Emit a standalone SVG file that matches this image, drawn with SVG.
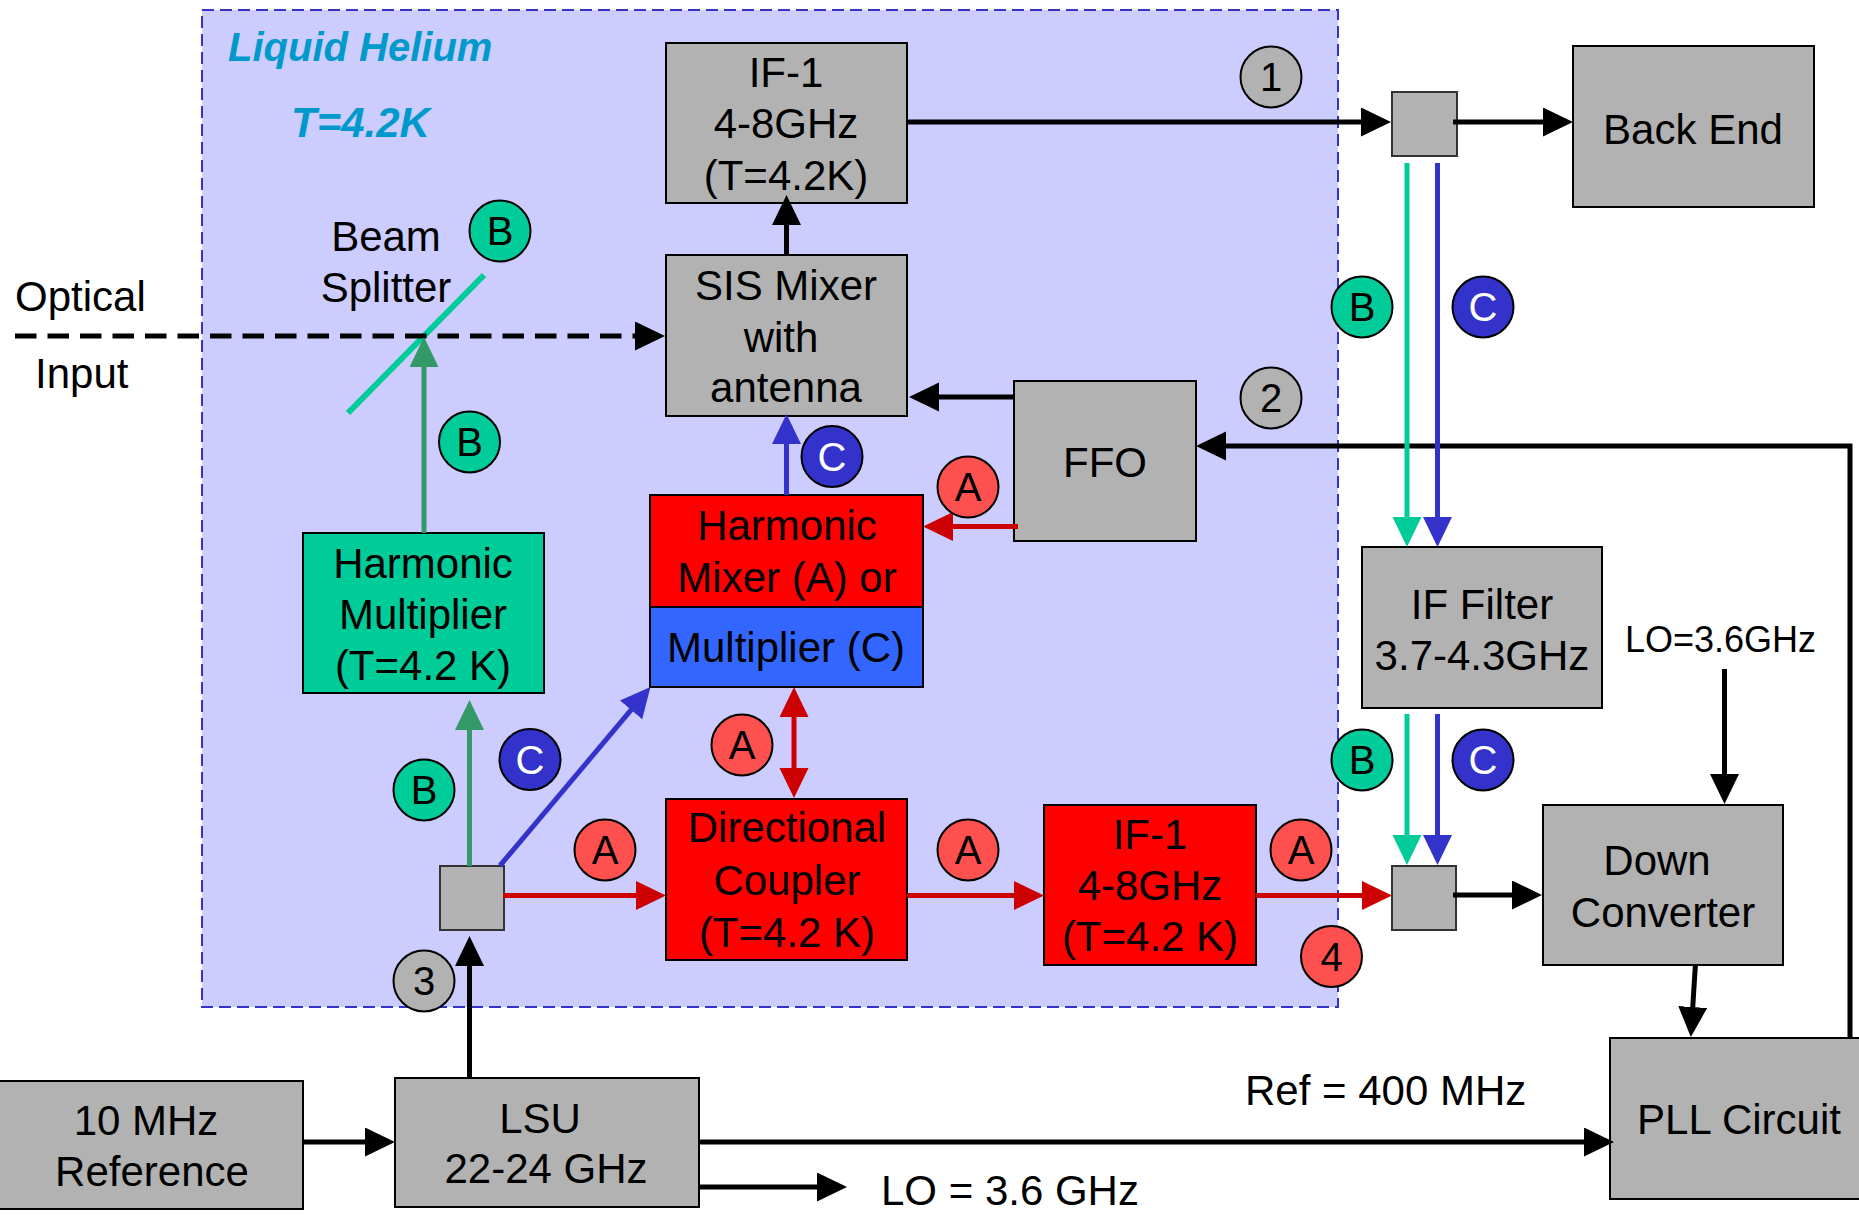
<svg xmlns="http://www.w3.org/2000/svg" width="1859" height="1215" viewBox="0 0 1859 1215">
<style>
text{font-family:"Liberation Sans",Arial,sans-serif;font-size:42px;fill:#000;text-anchor:middle}
.box{fill:#B2B2B2;stroke:#000;stroke-width:2}
.sp{fill:#B2B2B2;stroke:#333;stroke-width:2}
.red{fill:#FF0000;stroke:#000;stroke-width:2}
.grn{fill:#00CC99;stroke:#000;stroke-width:2}
.blu{fill:#3366FF;stroke:#000;stroke-width:2}
.c{stroke:#000;stroke-width:2}
.cg{fill:#B2B2B2}.cr{fill:#FF5050}.cb{fill:#00CC99}.cc{fill:#3333CC}
.lbl{font-size:40px}
.w{fill:#fff}
.k{fill:none;stroke:#000;stroke-width:5}
.r{fill:none;stroke:#CC0000;stroke-width:5}
.b{fill:none;stroke:#3333CC;stroke-width:5}
.g{fill:none;stroke:#00CC99;stroke-width:5}
.dg{fill:none;stroke:#339966;stroke-width:5}
.ti{font-weight:bold;font-style:italic;font-size:40px;fill:#0099CC;text-anchor:start}
.st{text-anchor:start}
</style>
<defs>
<marker id="mk" markerUnits="userSpaceOnUse" markerWidth="30" markerHeight="30" refX="18" refY="14.5" orient="auto"><path d="M0,0 L30,14.5 L0,29 z" fill="#000"/></marker>
<marker id="mr" markerUnits="userSpaceOnUse" markerWidth="30" markerHeight="30" refX="18" refY="14.5" orient="auto-start-reverse"><path d="M0,0 L30,14.5 L0,29 z" fill="#CC0000"/></marker>
<marker id="mb" markerUnits="userSpaceOnUse" markerWidth="30" markerHeight="30" refX="18" refY="14.5" orient="auto"><path d="M0,0 L30,14.5 L0,29 z" fill="#3333CC"/></marker>
<marker id="mg" markerUnits="userSpaceOnUse" markerWidth="30" markerHeight="30" refX="18" refY="14.5" orient="auto"><path d="M0,0 L30,14.5 L0,29 z" fill="#00CC99"/></marker>
<marker id="mdg" markerUnits="userSpaceOnUse" markerWidth="30" markerHeight="30" refX="18" refY="14.5" orient="auto"><path d="M0,0 L30,14.5 L0,29 z" fill="#339966"/></marker>
</defs>
<rect width="1859" height="1215" fill="#fff"/>
<g id="liquid-helium">
<rect x="202" y="10" width="1136" height="997" fill="#CCCCFF" stroke="#3333CC" stroke-width="2" stroke-dasharray="12,6"/>
<text class="ti" x="228" y="61">Liquid Helium</text>
<text class="ti" x="291" y="137" style="font-size:42px">T=4.2K</text>
</g>
<g id="if1-top"><rect class="box" x="666" y="43" width="241" height="160"/>
<text x="786" y="87">IF-1</text><text x="786" y="138">4-8GHz</text><text x="786" y="190">(T=4.2K)</text></g>
<g id="sis-mixer"><rect class="box" x="666" y="255" width="241" height="161"/>
<text x="786" y="300">SIS Mixer</text><text x="781" y="352">with</text><text x="786" y="402">antenna</text></g>
<g id="splitter-top"><rect class="sp" x="1392" y="92" width="65" height="64"/></g>
<g id="back-end"><rect class="box" x="1573" y="46" width="241" height="161"/><text x="1693" y="144">Back End</text></g>
<g id="ffo"><rect class="box" x="1014" y="381" width="182" height="160"/><text x="1105" y="477">FFO</text></g>
<g id="harmonic-mixer"><rect class="red" x="650" y="495" width="273" height="112"/><rect class="blu" x="650" y="607" width="273" height="80"/>
<text x="787" y="540">Harmonic</text><text x="787" y="592">Mixer (A) or</text><text x="786" y="662">Multiplier (C)</text></g>
<g id="harmonic-multiplier"><rect class="grn" x="303" y="533" width="241" height="160"/>
<text x="423" y="578">Harmonic</text><text x="423" y="629">Multiplier</text><text x="423" y="680">(T=4.2 K)</text></g>
<g id="splitter-left"><rect class="sp" x="440" y="866" width="64" height="64"/></g>
<g id="directional-coupler"><rect class="red" x="666" y="799" width="241" height="161"/>
<text x="787" y="842">Directional</text><text x="787" y="895">Coupler</text><text x="787" y="947">(T=4.2 K)</text></g>
<g id="if1-bottom"><rect class="red" x="1044" y="805" width="212" height="160"/>
<text x="1150" y="849">IF-1</text><text x="1150" y="900">4-8GHz</text><text x="1150" y="951">(T=4.2 K)</text></g>
<g id="if-filter"><rect class="box" x="1362" y="547" width="240" height="161"/>
<text x="1482" y="619">IF Filter</text><text x="1482" y="670">3.7-4.3GHz</text></g>
<g id="splitter-bottom"><rect class="sp" x="1392" y="866" width="64" height="64"/></g>
<g id="down-converter"><rect class="box" x="1543" y="805" width="240" height="160"/>
<text x="1657" y="875">Down</text><text x="1663" y="927">Converter</text></g>
<g id="pll"><rect class="box" x="1610" y="1038" width="260" height="161"/><text x="1739" y="1134">PLL Circuit</text></g>
<g id="ref10"><rect class="box" x="-2" y="1081" width="305" height="128"/>
<text x="146" y="1135">10 MHz</text><text x="152" y="1186">Reference</text></g>
<g id="lsu"><rect class="box" x="395" y="1078" width="304" height="129"/>
<text x="540" y="1133">LSU</text><text x="546" y="1183">22-24 GHz</text></g>
<g id="beam-splitter"><line x1="484" y1="275" x2="348" y2="413" stroke="#00CC99" stroke-width="6"/>
<text x="386" y="251">Beam</text><text x="386" y="302">Splitter</text></g>
<g id="labels">
<text class="st" x="15" y="311">Optical</text><text class="st" x="35" y="388">Input</text>
<text class="st" x="1625" y="652" style="font-size:36px">LO=3.6GHz</text>
<text class="st" x="1245" y="1105">Ref = 400 MHz</text>
<text class="st" x="881" y="1205">LO = 3.6 GHz</text>
</g>
<g id="connectors">
<path class="k" d="M786.5,255 V207" marker-end="url(#mk)"/>
<path class="k" d="M907,122 H1379" marker-end="url(#mk)"/>
<path class="k" d="M1453,122 H1561" marker-end="url(#mk)"/>
<path class="k" d="M1014,397 H921" marker-end="url(#mk)"/>
<path class="k" d="M1850,1038 V446 H1208" marker-end="url(#mk)"/>
<path class="k" d="M1453,895 H1530" marker-end="url(#mk)"/>
<path class="k" d="M1724.5,669 V792" marker-end="url(#mk)"/>
<path class="k" d="M1695.4,965 L1691.6,1025" marker-end="url(#mk)"/>
<path class="k" d="M469.5,1078 V948" marker-end="url(#mk)"/>
<path class="k" d="M303,1142 H383" marker-end="url(#mk)"/>
<path class="k" d="M699,1142 H1602" marker-end="url(#mk)"/>
<path class="k" d="M699,1187 H835" marker-end="url(#mk)"/>
<path class="k" d="M15,336 H653" stroke-dasharray="21.5,11" marker-end="url(#mk)"/>
<path class="r" d="M503,895.5 H654" marker-end="url(#mr)"/>
<path class="r" d="M907,895.5 H1032" marker-end="url(#mr)"/>
<path class="r" d="M1256,895.5 H1380" marker-end="url(#mr)"/>
<path class="r" d="M1018,526.5 H935" marker-end="url(#mr)"/>
<path class="r" d="M794,699 V786" marker-start="url(#mr)" marker-end="url(#mr)"/>
<path class="b" d="M1437.5,163 V535" marker-end="url(#mb)"/>
<path class="b" d="M1437.5,714 V853" marker-end="url(#mb)"/>
<path class="b" d="M786.5,495 V426" marker-end="url(#mb)"/>
<path class="b" d="M500,865.6 L642.7,696.2" marker-end="url(#mb)"/>
<path class="g" d="M1407,163 V535" marker-end="url(#mg)"/>
<path class="g" d="M1407,714 V853" marker-end="url(#mg)"/>
<path class="dg" d="M424,533 V349" marker-end="url(#mdg)"/>
<path class="dg" d="M469.5,866 V712" marker-end="url(#mdg)"/>
</g>
<g id="markers">
<circle class="c cg" cx="1271" cy="77" r="30.5"/><text class="lbl" x="1271" y="91">1</text>
<circle class="c cg" cx="1271" cy="398" r="30.5"/><text class="lbl" x="1271" y="412">2</text>
<circle class="c cg" cx="424" cy="981" r="30.5"/><text class="lbl" x="424" y="995">3</text>
<circle class="c cr" cx="1331.5" cy="956.5" r="30.5"/><text class="lbl" x="1331.5" y="970.5">4</text>
<circle class="c cb" cx="500" cy="231" r="30.5"/><text class="lbl" x="500" y="245">B</text>
<circle class="c cb" cx="469.5" cy="442" r="30.5"/><text class="lbl" x="469.5" y="456">B</text>
<circle class="c cb" cx="424" cy="790" r="30.5"/><text class="lbl" x="424" y="804">B</text>
<circle class="c cc" cx="530" cy="759.5" r="30.5"/><text class="lbl w" x="530" y="773.5">C</text>
<circle class="c cc" cx="832" cy="456.5" r="30.5"/><text class="lbl w" x="832" y="470.5">C</text>
<circle class="c cr" cx="968" cy="487" r="30.5"/><text class="lbl" x="968" y="501">A</text>
<circle class="c cr" cx="742" cy="745" r="30.5"/><text class="lbl" x="742" y="759">A</text>
<circle class="c cr" cx="605" cy="850" r="30.5"/><text class="lbl" x="605" y="864">A</text>
<circle class="c cr" cx="968" cy="850" r="30.5"/><text class="lbl" x="968" y="864">A</text>
<circle class="c cr" cx="1301" cy="850" r="30.5"/><text class="lbl" x="1301" y="864">A</text>
<circle class="c cb" cx="1362" cy="307" r="30.5"/><text class="lbl" x="1362" y="321">B</text>
<circle class="c cc" cx="1483" cy="307" r="30.5"/><text class="lbl w" x="1483" y="321">C</text>
<circle class="c cb" cx="1362" cy="760" r="30.5"/><text class="lbl" x="1362" y="774">B</text>
<circle class="c cc" cx="1483" cy="760" r="30.5"/><text class="lbl w" x="1483" y="774">C</text>
</g>
</svg>
